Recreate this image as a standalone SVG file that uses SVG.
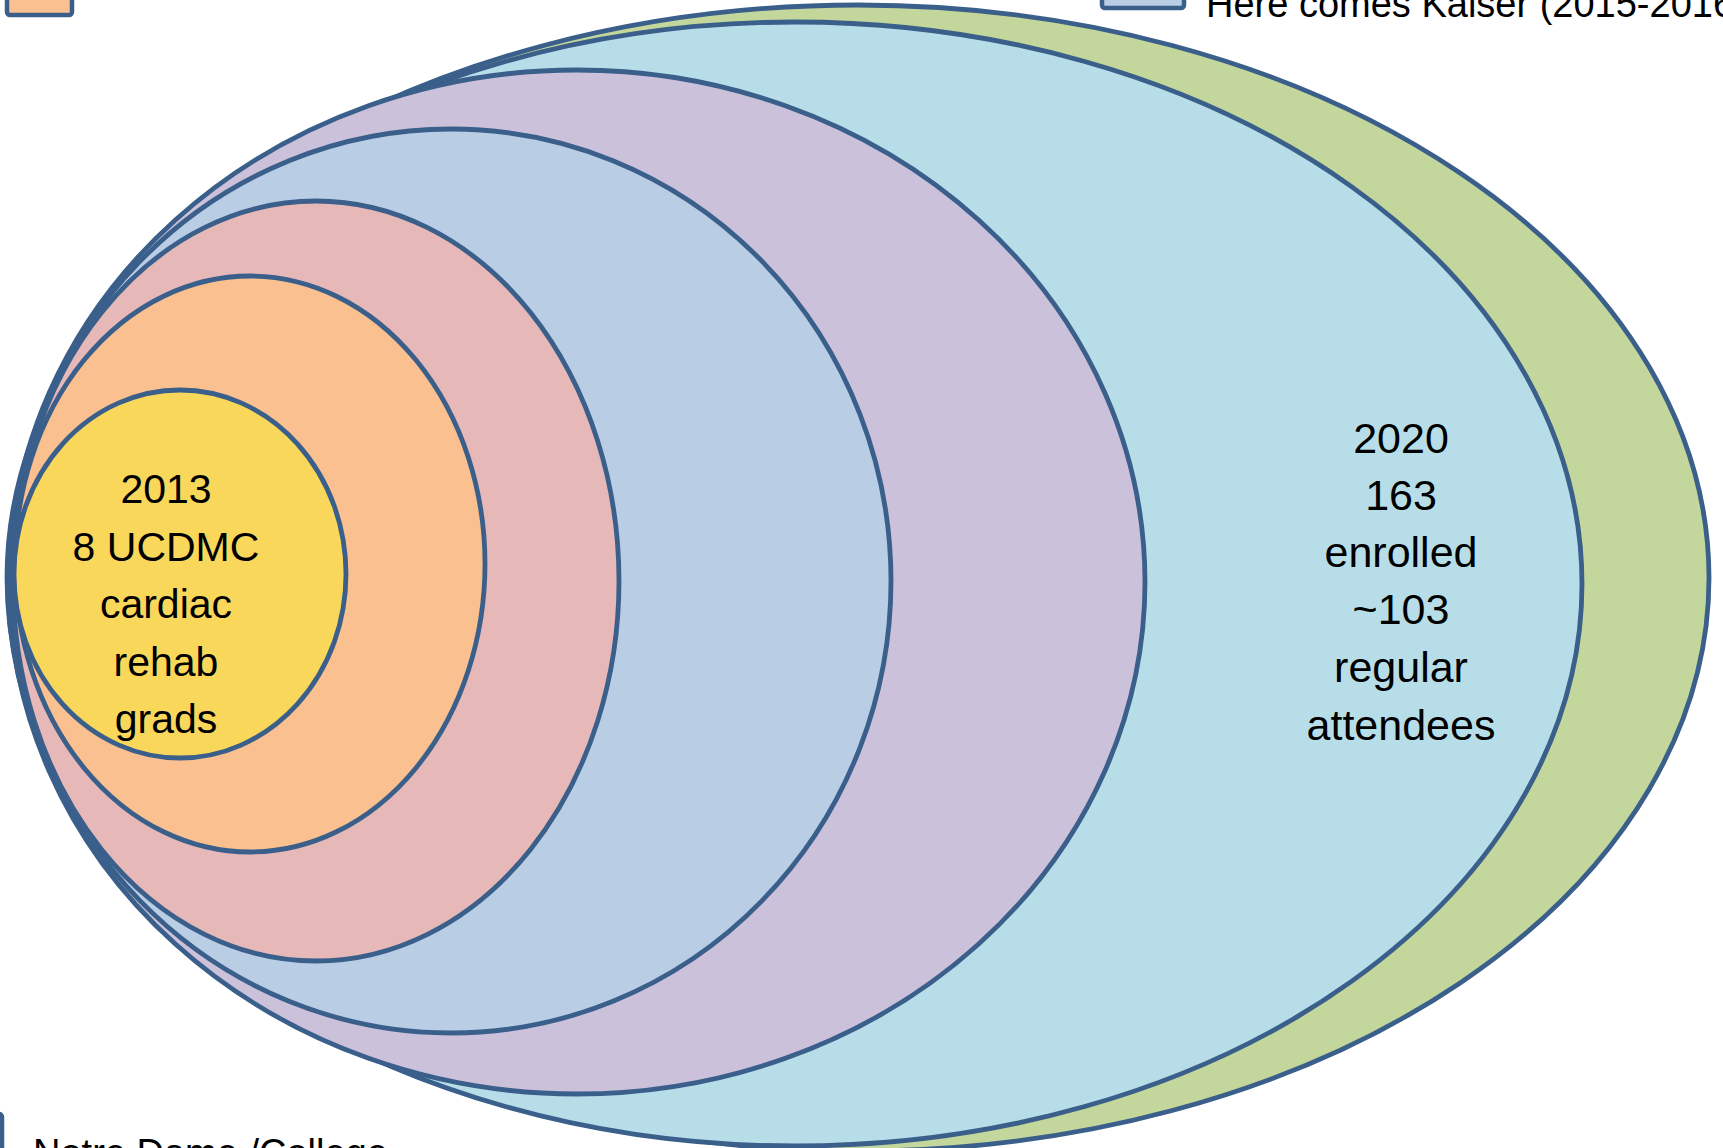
<svg xmlns="http://www.w3.org/2000/svg" width="1723" height="1148" viewBox="0 0 1723 1148">
<style>
.e{stroke:#3A5F8B;stroke-width:4.8}
.lg{stroke:#3A5F8B;stroke-width:4.5}
.t{font-family:"Liberation Sans",Arial,sans-serif;font-size:41px;fill:#000;text-anchor:middle}
.t2{font-size:43px}
.lt{font-family:"Liberation Sans",Arial,sans-serif;font-size:38px;fill:#000}
</style>
<rect width="1723" height="1148" fill="#FFFFFF"/>
<g id="legend">
<rect id="legend-orange" class="lg" x="7" y="-40" width="65" height="55" rx="3" fill="#FAC090"/>
<g id="legend-kaiser">
<rect class="lg" x="1102" y="-40" width="82" height="48" rx="3" fill="#B9CDE5"/>
<text class="lt" x="1206" y="17">Here comes Kaiser (2015-2016</text>
</g>
<g id="legend-notredame">
<rect class="lg" x="-80" y="1114" width="82" height="50" rx="3" fill="#B9CDE5"/>
<text class="lt" x="33" y="1166">Notre Dame /College</text>
</g>
</g>
<g id="node-green"><ellipse class="e" cx="858" cy="578" rx="851" ry="573" fill="#C3D69B"/></g>
<g id="node-lightblue"><ellipse class="e" cx="795" cy="584" rx="787" ry="562" fill="#B7DEE8"/>
<text class="t t2" x="1401" y="453">2020</text>
<text class="t t2" x="1401" y="510">163</text>
<text class="t t2" x="1401" y="567">enrolled</text>
<text class="t t2" x="1401" y="624">~103</text>
<text class="t t2" x="1401" y="682">regular</text>
<text class="t t2" x="1401" y="740">attendees</text>
</g>
<g id="node-purple"><ellipse class="e" cx="577" cy="582" rx="568" ry="512" fill="#CCC1DA"/></g>
<g id="node-blue"><ellipse class="e" cx="451" cy="581" rx="440" ry="452" fill="#B9CDE5"/></g>
<g id="node-pink"><ellipse class="e" cx="316" cy="581" rx="303" ry="380" fill="#E6B9B8"/></g>
<g id="node-orange"><ellipse class="e" cx="250" cy="564" rx="235" ry="288" fill="#FAC090"/></g>
<g id="node-yellow"><ellipse class="e" cx="180" cy="574" rx="166" ry="184" fill="#F9D75B"/>
<text class="t" x="166" y="503">2013</text>
<text class="t" x="166" y="561">8 UCDMC</text>
<text class="t" x="166" y="618">cardiac</text>
<text class="t" x="166" y="676">rehab</text>
<text class="t" x="166" y="733">grads</text>
</g>
<g id="connectors"></g>
</svg>
